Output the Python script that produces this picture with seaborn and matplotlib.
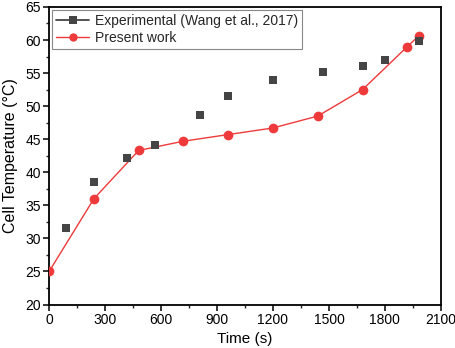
import matplotlib
matplotlib.use("Agg")
import matplotlib.pyplot as plt
import seaborn as sns
import pandas as pd
from matplotlib.lines import Line2D
from matplotlib.ticker import MultipleLocator

# Data
exp_time = [90, 240, 420, 570, 810, 960, 1200, 1470, 1680, 1800, 1980]
exp_temp = [31.5, 38.6, 42.2, 44.1, 48.6, 51.6, 54.0, 55.2, 56.1, 57.0, 59.9]
pres_time = [0, 240, 480, 720, 960, 1200, 1440, 1680, 1920, 1980]
pres_temp = [25.0, 36.0, 43.3, 44.7, 45.7, 46.7, 48.5, 52.5, 59.0, 60.6]

exp_label = "Experimental (Wang et al., 2017)"
pres_label = "Present work"
x_label = "Time (s)"
y_label = "Cell Temperature (\u00b0C)"

sns.set_theme(style="white")
plt.rcParams['font.family'] = ['Liberation Sans', 'DejaVu Sans']

exp_color = "#454545"
pres_color = "#ee3a3a"

fig = plt.figure(figsize=(4.55, 3.48), dpi=100)
ax = fig.add_axes([0.108, 0.125, 0.861, 0.855])

df_exp = pd.DataFrame({"t": exp_time, "T": exp_temp})
df_pres = pd.DataFrame({"t": pres_time, "T": pres_temp})

sns.lineplot(data=df_pres, x="t", y="T", ax=ax, color=pres_color, lw=1.0,
             marker="o", markersize=7, markeredgewidth=0, sort=True,
             legend=False, zorder=3)
sns.scatterplot(data=df_exp, x="t", y="T", ax=ax, color=exp_color, marker="s",
                s=32, linewidth=0, legend=False, zorder=4)

ax.set_xlim(0, 2100)
ax.set_ylim(20, 65)
ax.xaxis.set_major_locator(MultipleLocator(300))
ax.xaxis.set_minor_locator(MultipleLocator(150))
ax.yaxis.set_major_locator(MultipleLocator(5))
ax.yaxis.set_minor_locator(MultipleLocator(2.5))

for s in ax.spines.values():
    s.set_color("black")
    s.set_linewidth(1.3)

ax.tick_params(axis="both", which="major", direction="out", length=4, width=1.1,
               labelsize=10, colors="black", pad=2, bottom=True, left=True)
ax.tick_params(axis="both", which="minor", direction="out", length=2.5, width=1.0,
               bottom=True, left=True)

ax.set_xlabel(x_label, fontsize=11, color="black", labelpad=4)
ax.set_ylabel(y_label, fontsize=11.5, color="black", labelpad=5)

handles = [
    Line2D([0], [0], color=exp_color, lw=1.3, marker="s", markersize=5.5, markeredgewidth=0),
    Line2D([0], [0], color=pres_color, lw=1.0, marker="o", markersize=6, markeredgewidth=0),
]
leg = ax.legend(handles, [exp_label, pres_label], loc="upper left", fontsize=10,
                frameon=True, fancybox=False, edgecolor="#888888", framealpha=1,
                borderpad=0.3, labelspacing=0.2, handlelength=2.4,
                handletextpad=0.4, borderaxespad=0.2)
leg.get_frame().set_linewidth(0.8)

fig.savefig("out.png", dpi=100)
